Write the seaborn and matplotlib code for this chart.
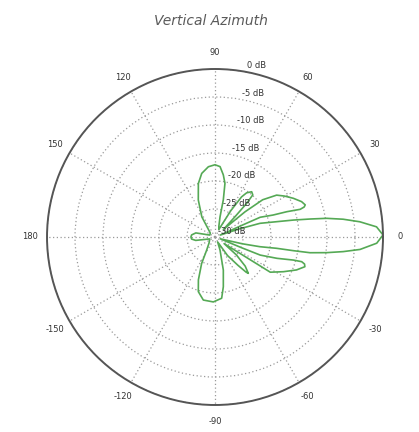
import numpy as np
import pandas as pd
import matplotlib
matplotlib.use("Agg")
import matplotlib.pyplot as plt
import matplotlib.transforms as mtransforms
import seaborn as sns

# ---- data (traced outline of the vertical pattern, drawing order) ----
angle_deg = [
    0.7, 3.6, 6.0, 7.9, 9.5, 10.7, 12.2, 13.9, 16.9, 18.5, 20,
    23.5, 23.6, 20.7, 19.4, 18.0, 18.6, 19.6, 22.2, 26.3, 30.5, 34.2, 38, 40, 42,
    45.4, 46.8, 48.1, 51, 54.4, 56.5, 59, 63,
    70, 76, 77.4, 79.5, 82.4, 85.9, 90, 95.4, 101.8, 107.3, 114.3, 123.2, 140,
    160, 168, 175, 180, -175, -170, -160,
    -135, -122.6, -116.8, -111.2, -107, -100.5, -91.5, -83.8, -80.5, -75.9, -69, -62,
    -56, -51, -48.5, -47.5, -44, -40, -36,
    -33, -32.5, -26.9, -22, -18.3, -16.8, -15.9, -16.4, -19, -21.8, -22, -19,
    -14, -12.2, -10.4, -9.9, -9.4, -8.0, -6.5, -4.9, -2.2, 0.7,
]
gain_db = [
    0.0, -1.1, -4.0, -6.9, -9.8, -12.7, -15.7, -18.6, -21.6, -25.5, -29,
    -24.5, -21.2, -18.9, -16.4, -14.0, -13.2, -12.9, -13.3, -14.4, -15.6, -16.7, -19.2, -23, -28,
    -24.9, -21.7, -19.9, -19.6, -20.3, -21.4, -24.5, -28.5,
    -28, -26.3, -23.2, -20.25, -18.8, -17.4, -17.1, -17.4, -18.4, -20.0, -22.75, -25.7, -28.9,
    -29, -26.5, -25.8, -25.7, -25.8, -26.5, -29,
    -28.5, -27.25, -24.7, -21.8, -19.8, -18.55, -18.4, -19.0, -21.0, -23.9, -27.5, -29,
    -26, -23.5, -21.6, -21.2, -22.5, -25, -28,
    -23.3, -18.3, -16.3, -14.3, -13.1, -13.3, -13.9, -15.4, -18.3, -21.3, -25, -29,
    -25, -21.8, -18.8, -15.8, -12.8, -9.9, -6.95, -4.0, -1.1, 0.0,
]
theta_ticks_deg = [0, 30, 60, 90, 120, 150, 180, 210, 240, 270, 300, 330]
theta_tick_labels = ["0", "30", "60", "90", "120", "150", "180",
                     "-150", "-120", "-90", "-60", "-30"]
ring_db = [-30, -25, -20, -15, -10, -5, 0]
ring_labels = ["-30 dB", "-25 dB", "-20 dB", "-15 dB", "-10 dB", "-5 dB", "0 dB"]

df = pd.DataFrame({"theta": np.deg2rad(angle_deg), "gain": gain_db})

sns.set_style("white")
plt.rcParams["font.family"] = ["DejaVu Sans"]

fig = plt.figure(figsize=(4.19, 4.32), dpi=100)
ax = fig.add_axes([0.1122, 0.0625, 0.8019, 0.7778], projection="polar")
ax.set_theta_zero_location("E")
ax.set_theta_direction(1)
ax.set_ylim(-30, 0)

sns.lineplot(data=df, x="theta", y="gain", sort=False, estimator=None,
             ax=ax, color="#55a955", linewidth=1.2)
ax.set_xlabel("")
ax.set_ylabel("")

ax.set_xticks(np.deg2rad(theta_ticks_deg))
ax.set_xticklabels(theta_tick_labels, fontsize=6, color="#333333")
ax.tick_params(axis="x", pad=1.5)
ax.set_yticks(ring_db)
ax.set_yticklabels([])
ax.grid(True, linestyle=(0, (1, 2)), color="#9a9a9a", linewidth=0.9)
ax.spines["polar"].set_color("#555555")
ax.spines["polar"].set_linewidth(1.4)

off = mtransforms.offset_copy(ax.transData, fig=fig, x=2, y=1, units="points")
for r, lab in zip(ring_db, ring_labels):
    ax.text(np.deg2rad(80), r, lab, transform=off, ha="left", va="bottom",
            fontsize=6, color="#333333", clip_on=False)

fig.text(0.504, 0.952, "Vertical Azimuth", ha="center", va="center",
         fontsize=10, style="italic", color="#5a5a5a")

fig.savefig("out.png", dpi=100)
